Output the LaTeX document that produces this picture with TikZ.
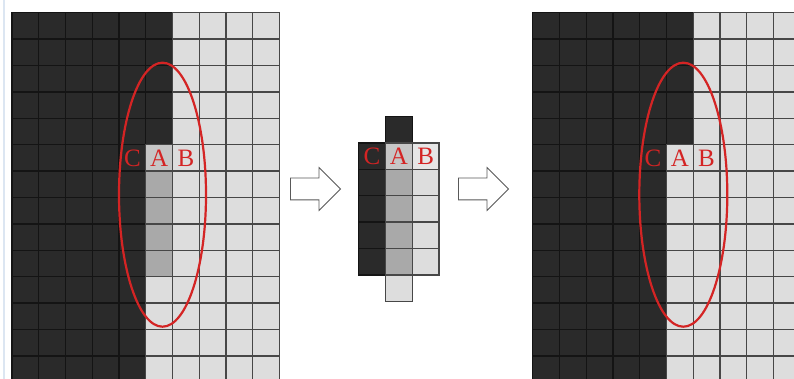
\documentclass[tikz,border=0pt]{standalone}
\usepackage{fontspec}
\setmainfont{Liberation Serif}
\usetikzlibrary{shapes.geometric, shapes.arrows, positioning}

\definecolor{pixdark}{HTML}{2A2A2A}
\definecolor{pixlight}{HTML}{DDDDDD}
\definecolor{pixpale}{HTML}{E6E6E6}
\definecolor{pixmid}{HTML}{A9A9A9}
\definecolor{pixsoft}{HTML}{C6C6C6}
\definecolor{markred}{HTML}{D42424}
\definecolor{edgeblue}{HTML}{DCE6F2}

\tikzset{
	pix/.style={draw, line width=1.3pt, minimum width=26.75pt, minimum height=26.4pt,
		inner sep=0pt, outer sep=0pt},
	dark/.style={pix, fill=pixdark, draw=black!92},
	light/.style={pix, fill=pixlight, draw=black!72},
	pale/.style={pix, fill=pixpale, draw=black!72},
	mid/.style={pix, fill=pixmid, draw=black!72},
	soft/.style={pix, fill=pixsoft, draw=black!72},
	letter/.style={text=markred, font=\fontsize{25}{25}\selectfont, inner sep=0pt},
	ring/.style={ellipse, draw=markred, line width=2.2pt, inner sep=0pt},
	bigarrow/.style={single arrow, draw=black!65, fill=white, line width=0.8pt,
		minimum height=50pt, minimum width=42pt, single arrow head extend=10.5pt,
		inner xsep=0pt, inner ysep=10.5pt}
}

\begin{document}
\begin{tikzpicture}[x=1pt, y=-1pt]
	\useasboundingbox (0,0) rectangle (794,379);
	\fill[white] (0,0) rectangle (794,379);
	\clip (0,0) rectangle (794,379);
	\draw[edgeblue, line width=2.5pt] (4,0) -- (4,379);
	
	% Left grid (before)
	\foreach \c in {0,...,9}
	\foreach \r in {0,...,13} {
		\def\kind{light}
		\ifnum\c<5\relax \def\kind{dark}\fi
		\ifnum\c=5\relax
			\ifnum\r<5\relax \def\kind{dark}\fi
			\ifnum\r=5\relax \def\kind{soft}\fi
			\ifnum\r>5\relax \ifnum\r<10\relax \def\kind{mid}\fi\fi
		\fi
		\node[\kind] (L-\c-\r) at ({12+(\c+0.5)*26.75},{12.7+(\r+0.5)*26.4}) {};
	}
	\node[letter] (LC) at (L-4-5) {C};
	\node[letter] (LA) at (L-5-5) {A};
	\node[letter] (LB) at (L-6-5) {B};
	\node[ring, minimum width=87pt, minimum height=264pt] (ringL) at (162.5,194.7) {};
	
	% Middle window
	\foreach \r in {1,...,5}
	\node[dark] (M-0-\r) at ({358.5+0.5*26.9},{116.5+(\r+0.5)*26.4}) {};
	\node[dark] (M-1-0) at ({358.5+1.5*26.9},{116.5+0.5*26.4}) {};
	\node[soft] (M-1-1) at ({358.5+1.5*26.9},{116.5+1.5*26.4}) {};
	\foreach \r in {2,...,5}
	\node[mid] (M-1-\r) at ({358.5+1.5*26.9},{116.5+(\r+0.5)*26.4}) {};
	\node[light] (M-1-6) at ({358.5+1.5*26.9},{116.5+6.5*26.4}) {};
	\node[pale] (M-2-1) at ({358.5+2.5*26.9},{116.5+1.5*26.4}) {};
	\foreach \r in {2,...,5}
	\node[light] (M-2-\r) at ({358.5+2.5*26.9},{116.5+(\r+0.5)*26.4}) {};
	\node[letter] (MC) at (M-0-1) {C};
	\node[letter] (MA) at (M-1-1) {A};
	\node[letter] (MB) at (M-2-1) {B};
	
	% Arrows
	\node[bigarrow] (step1) at (310,189) {};
	\node[bigarrow] (step2) at (478,189) {};
	
	% Right grid (after)
	\foreach \c in {0,...,9}
	\foreach \r in {0,...,13} {
		\def\kind{light}
		\ifnum\c<5\relax \def\kind{dark}\fi
		\ifnum\c=5\relax \ifnum\r<5\relax \def\kind{dark}\fi\fi
		\node[\kind] (R-\c-\r) at ({532.7+(\c+0.5)*26.75},{12.7+(\r+0.5)*26.4}) {};
	}
	\node[letter] (RC) at (R-4-5) {C};
	\node[letter] (RA) at (R-5-5) {A};
	\node[letter] (RB) at (R-6-5) {B};
	\node[ring, minimum width=88pt, minimum height=264pt] (ringR) at (683.3,194.7) {};
\end{tikzpicture}
\end{document}
